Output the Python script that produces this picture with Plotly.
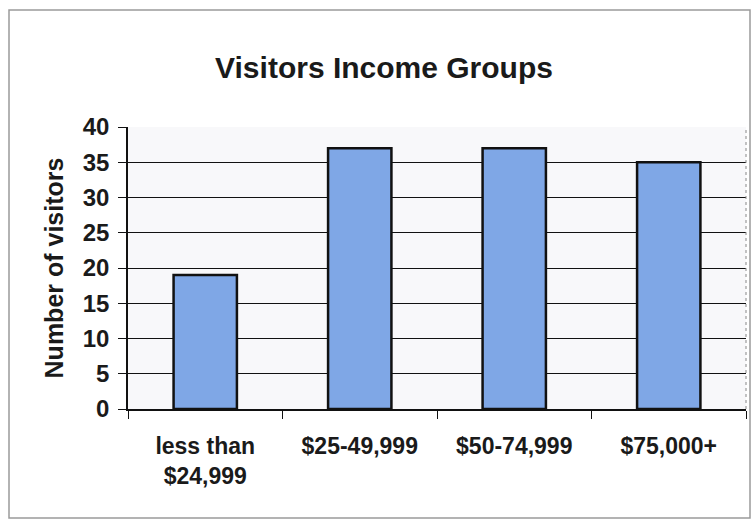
import plotly.graph_objects as go

# Survey results: visitors by household income bracket
categories = ["less than<br>$24,999", "$25-49,999", "$50-74,999", "$75,000+"]
visitors = [19, 37, 37, 35]
y_ticks = [0, 5, 10, 15, 20, 25, 30, 35, 40]

FONT = "Liberation Sans, Arial, sans-serif"

# pixel geometry of the plotting area inside the 751x521 page
W, H = 751, 521
L, R, T, B = 128, 5, 127, 112
pw, ph = W - L - R, H - T - B


def px_x(x):
    return (x - L) / pw


def px_y(y):
    return (H - B - y) / ph


fig = go.Figure(
    go.Bar(
        x=categories,
        y=visitors,
        marker=dict(color="#7fa7e6", line=dict(color="#111111", width=2.5)),
        width=0.41,
    )
)

fig.update_layout(
    width=W,
    height=H,
    margin=dict(l=L, r=R, t=T, b=B),
    paper_bgcolor="white",
    plot_bgcolor="#f8f8fa",
    showlegend=False,
    title=dict(
        text="<b>Visitors Income Groups</b>",
        font=dict(family=FONT, size=30, color="#1a1a1a"),
        x=384 / W,
        xanchor="center",
        y=1 - 67 / H,
        yanchor="middle",
        yref="container",
    ),
    font=dict(family=FONT, color="#1a1a1a"),
)

fig.update_yaxes(
    range=[0, 40],
    tickvals=y_ticks,
    ticktext=[f"<b>{v}</b>" for v in y_ticks],
    tickfont=dict(size=24),
    ticks="outside",
    ticklen=8,
    tickcolor="#111111",
    ticklabelstandoff=4,
    showgrid=True,
    gridcolor="#111111",
    gridwidth=1,
    showline=True,
    linecolor="#111111",
    linewidth=1.5,
    zeroline=False,
    automargin=False,
    title=dict(text="<b>Number of visitors</b>", font=dict(size=25), standoff=12),
)

fig.update_xaxes(
    tickson="boundaries",
    ticks="outside",
    ticklen=8,
    tickcolor="#111111",
    ticktext=[f"<b>{c}</b>" for c in categories],
    tickvals=categories,
    tickfont=dict(size=23),
    ticklabelstandoff=16,
    showline=True,
    linecolor="#111111",
    linewidth=1.5,
    showgrid=False,
    automargin=False,
)

# outer chart frame and dashed right edge of the plotting area
fig.add_shape(
    type="rect", xref="paper", yref="paper",
    x0=px_x(9), x1=px_x(750), y0=px_y(518), y1=px_y(10),
    line=dict(color="#9a9a9a", width=1.5), layer="below",
)
fig.add_shape(
    type="line", xref="paper", yref="paper",
    x0=1, x1=1, y0=0, y1=1,
    line=dict(color="#888888", width=1, dash="dot"),
)

fig.write_html("out.html")
